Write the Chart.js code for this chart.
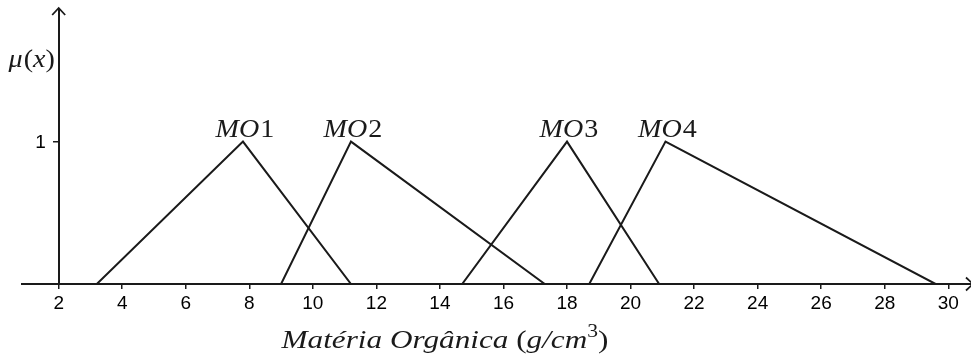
<!DOCTYPE html>
<html>
<head>
<meta charset="utf-8">
<script src="https://cdn.jsdelivr.net/npm/chart.js"></script>
<style>
    html, body { margin: 0; padding: 0; background: #fff; }
    #wrap { width: 971px; height: 355px; }
</style>
</head>
<body>
<div id="wrap"><canvas id="chart"></canvas></div>
<script>
// fuzzy sets for organic matter: start, peak, end
var setNames = ["MO1", "MO2", "MO3", "MO4"];
var mo1X = [3.2, 7.8, 11.2];
var mo2X = [9.0, 11.2, 17.3];
var mo3X = [14.7, 18.0, 20.9];
var mo4X = [18.7, 21.1, 29.6];
var muValues = [0, 1, 0];
var xTicks = [2, 4, 6, 8, 10, 12, 14, 16, 18, 20, 22, 24, 26, 28, 30];
var yTicks = [1];

var ink = "#1a1a1a";
var serif = "'Liberation Serif', 'Times New Roman', serif";
var sans = "'Liberation Sans', Arial, sans-serif";

function points(xs) {
    return xs.map(function (x, i) { return { x: x, y: muValues[i] }; });
}

// draws text made of pieces with different fonts, centred on cx
// sx stretches it sideways (the original uses a wide TeX font)
function drawRuns(ctx, runs, cx, baseline, sx) {
    sx = sx || 1;
    var total = 0;
    runs.forEach(function (r) {
        ctx.font = r.font;
        r.w = ctx.measureText(r.text).width;
        total += r.w + (r.gap || 0);
    });
    ctx.save();
    ctx.translate(cx, baseline);
    ctx.scale(sx, 1);
    var x = -total / 2;
    ctx.textAlign = "left";
    ctx.textBaseline = "alphabetic";
    runs.forEach(function (r) {
        ctx.font = r.font;
        ctx.fillText(r.text, x, r.dy || 0);
        x += r.w + (r.gap || 0);
    });
    ctx.restore();
}

var decorations = {
    id: "decorations",
    afterDraw: function (chart) {
        var ctx = chart.ctx;
        var area = chart.chartArea;
        var xs = chart.scales.x;
        var ys = chart.scales.y;
        var axisX = xs.getPixelForValue(ys.options.position.x);
        ctx.save();
        ctx.strokeStyle = ink;
        ctx.fillStyle = ink;
        ctx.lineWidth = 1.8;

        // arrow heads
        ctx.beginPath();
        ctx.moveTo(axisX - 6.5, area.top + 5);
        ctx.lineTo(axisX, area.top - 2);
        ctx.lineTo(axisX + 6.5, area.top + 5);
        ctx.moveTo(area.right - 5, area.bottom - 6.5);
        ctx.lineTo(area.right + 2, area.bottom);
        ctx.lineTo(area.right - 5, area.bottom + 6.5);
        ctx.stroke();

        // y tick labels (left of the axis line)
        ctx.fillStyle = "#000";
        ctx.font = "19px " + sans;
        ctx.textAlign = "right";
        ctx.textBaseline = "middle";
        yTicks.forEach(function (v) {
            ctx.fillText(String(v), axisX - 13, ys.getPixelForValue(v) + 1);
        });
        ctx.fillStyle = ink;

        // peak labels
        var it = "italic 26px " + serif;
        var up = "26px " + serif;
        setNames.forEach(function (name, i) {
            var peak = chart.getDatasetMeta(i).data[1];
            drawRuns(ctx, [
                { text: name.slice(0, 2), font: it, gap: 1 },
                { text: name.slice(2), font: up }
            ], peak.x + 2, peak.y - 5, 1.08);
        });

        // y axis name
        drawRuns(ctx, [
            { text: "\u03bc", font: it, gap: 1 },
            { text: "(", font: up },
            { text: "x", font: it },
            { text: ")", font: up }
        ], axisX - 27, area.top + 57, 1.08);

        // x axis name
        drawRuns(ctx, [
            { text: "Mat\u00e9ria Org\u00e2nica ", font: "italic 26px " + serif },
            { text: "(", font: "26px " + serif },
            { text: "g/cm", font: "italic 26px " + serif },
            { text: "3", font: "18px " + serif, dy: -11 },
            { text: ")", font: "26px " + serif }
        ], 445, 348, 1.2);
        ctx.restore();
    }
};

function makeSet(xs) {
    return {
        data: points(xs),
        borderColor: ink,
        borderWidth: 2,
        pointRadius: 0,
        tension: 0,
        fill: false
    };
}

new Chart(document.getElementById("chart"), {
    type: "line",
    data: {
        datasets: [makeSet(mo1X), makeSet(mo2X), makeSet(mo3X), makeSet(mo4X)]
    },
    options: {
        responsive: true,
        maintainAspectRatio: false,
        animation: false,
        layout: { padding: { left: 22, right: 0, top: 10, bottom: 0 } },
        plugins: {
            legend: { display: false },
            tooltip: { enabled: false }
        },
        scales: {
            x: {
                type: "linear",
                position: "bottom",
                min: 0.845,
                max: 30.716,
                afterFit: function (s) { s.height = 71; },
                afterBuildTicks: function (s) {
                    s.ticks = xTicks.map(function (v) { return { value: v }; });
                },
                ticks: {
                    color: "#000",
                    font: { family: sans, size: 19 },
                    padding: 3,
                    maxRotation: 0,
                    autoSkip: false
                },
                grid: { drawOnChartArea: false, drawTicks: true, tickLength: 5, color: ink, lineWidth: 1.5 },
                border: { color: ink, width: 2 }
            },
            y: {
                type: "linear",
                position: { x: 2 },
                min: 0,
                max: 1.924,
                afterBuildTicks: function (s) {
                    s.ticks = yTicks.map(function (v) { return { value: v }; });
                },
                ticks: { display: false },
                grid: { drawOnChartArea: false, drawTicks: true, tickLength: 5, color: ink, lineWidth: 1.5 },
                border: { color: ink, width: 2 }
            }
        }
    },
    plugins: [decorations]
});
</script>
</body>
</html>
